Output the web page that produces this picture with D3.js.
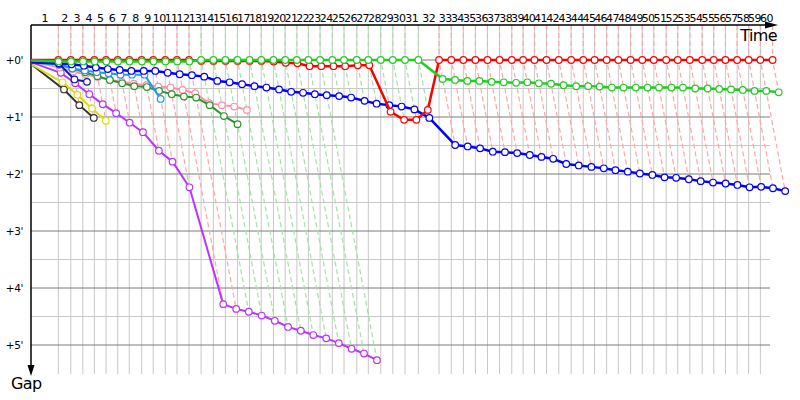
<!DOCTYPE html>
<html lang="en">
<head>
<meta charset="utf-8">
<title>Race gap chart</title>
<style>
  body { margin: 0; background: #fff; }
  text { font-family: "DejaVu Sans", Verdana, sans-serif; fill: #000; }
  .lapnum { font-size: 11px; letter-spacing: -0.6px; }
  .gaplab { font-size: 10.5px; letter-spacing: -0.4px; }
  .axtitle { font-size: 16px; letter-spacing: -0.6px; }
</style>
<script src="https://cdnjs.cloudflare.com/ajax/libs/d3/7.8.5/d3.min.js"></script>
</head>
<body>
<svg width="800" height="400"></svg>
<script>
// leader lap times in seconds, laps 1..60
const leaderLapTimes = [152, 69, 67, 64, 65, 65, 64, 69, 64, 67,
                        65, 67, 67, 68, 67, 67, 67, 65, 68, 65,
                        65, 64, 65, 68, 65, 71, 64, 69, 67, 68,
                        74, 115, 68, 67, 67, 67, 67, 68, 63, 63,
                        67, 68, 69, 67, 63, 67, 65, 68, 65, 64,
                        69, 64, 67, 69, 64, 65, 65, 64, 65, 68];
// who led each lap (R = red car, G = green car)
const lapLeader = "RRRRRRRRRRRRGGGGGGGGGGGGGGGGGGGRRRRRRRRRRRRRRRRRRRRRRRRRRRRR";

// gap to leader in seconds, index = lap (0 = start)
const gapPurple = [2.5, 13.5, 24.5, 36, 46.5, 56, 66, 76, 95.5, 107, 134, 257, 262, 265, 269, 274.5, 281, 285, 289.5, 293, 298, 304, 309, 316];
const gapBlack  = [5, 31, 47.5, 61];
const gapYellow = [5, 23.5, 36.5, 51, 64];
const gapPink   = [1.5, 8, 12, 15, 18, 21, 23, 25, 26.5, 28, 29, 31.5, 35, 45.5, 47.5, 49, 52.5];
const gapDkGreen= [3, 4.5, 9, 13, 17, 21, 24.5, 27.5, 28.5, 32.5, 36, 38.5, 39.5, 47.5, 59, 67.5];
const gapSky    = [2, 5, 9, 11, 13, 14, 15.5, 15.5, 15.5, 41];
const gapNavy   = [2, 4, 20.5, 23];
const gapBlue   = [2.5, 3.5, 4.5, 6, 8, 9.5, 10.5, 11.5, 11.5, 11.5,
                   13.5, 15, 16, 17.5, 22, 23.5, 25.5, 27.5, 29, 31,
                   33.5, 34.5, 36, 37, 38, 39.5, 43, 46, 47.5, 49,
                   52, 61, 89.5, 91, 93, 96.5, 97, 98, 100, 102,
                   104, 109.5, 111, 112.5, 114, 116, 117.5, 119.5, 121, 123.5,
                   124, 125.5, 127.5, 129, 130, 131.5, 134, 133.5, 135, 138];
const gapRed    = [0, 0, 0, 0, 0, 0, 0, 0, 0, 0, 0, 0, 0,
                   1, 1, 1, 1, 1, 1, 1.5, 3, 3.5, 6.5, 6.5, 6.5, 6.5, 5.5, 5.5, 54.5, 63, 63, 52.5,
                   0, 0, 0, 0, 0, 0, 0, 0, 0, 0, 0, 0, 0, 0, 0, 0, 0, 0,
                   0, 0, 0, 0, 0, 0, 0, 0, 0, 0, 0];
const gapGreen  = [0.5, 1.5, 1.5, 1.5, 1.5, 1.5, 1.5, 1.5, 1.5, 1.5, 1.5, 1.5, 1.5,
                   0, 0, 0, 0, 0, 0, 0, 0, 0, 0, 0, 0, 0, 0, 0, 0, 0, 0, 0,
                   20, 21, 22, 22, 23, 23.5, 24, 23.5, 24.5, 25,
                   26.5, 27.5, 27.5, 28, 29, 29, 29, 29, 29, 29,
                   29, 30, 30, 30.5, 31, 31.5, 32.5, 32.5, 34];

const gapTicks = [0, 60, 120, 180, 240, 300];
const gapTickLabels = ["+0'", "+1'", "+2'", "+3'", "+4'", "+5'"];
const halfTicks = [30, 90, 150, 210, 270];

// drawing order: last one ends up on top
const cars = [
    { gaps: gapPurple,  color: "#bb33ff", width: 2 },
    { gaps: gapBlack,   color: "#333333", width: 2 },
    { gaps: gapYellow,  color: "#dede00", width: 2 },
    { gaps: gapPink,    color: "#ff8fa8", width: 2 },
    { gaps: gapDkGreen, color: "#2a962a", width: 2 },
    { gaps: gapSky,     color: "#1e96ff", width: 2 },
    { gaps: gapNavy,    color: "#1a1aa8", width: 2 },
    { gaps: gapBlue,    color: "#0000ff", width: 2.5 },
    { gaps: gapRed,     color: "#ff0000", width: 2.5 },
    { gaps: gapGreen,   color: "#22cc22", width: 2.5 }
];
const dashColor = { R: "#ffa6a6", G: "#a6e0a6" };

let svg = d3.select("svg");
const left = 31, topY = 25, gridRight = 770, gridBottom = 374;

// cumulative leader time at end of each lap
const leaderTime = [0];
leaderLapTimes.forEach((t, i) => leaderTime.push(leaderTime[i] + t));

// 10.8 px per minute along time, 57 px per minute along gap
let x = d3.scaleLinear().domain([0, 4200]).range([left, left + 4200 / 60 * 10.8]);
let y = d3.scaleLinear().domain([0, 300]).range([60, 345]);

const px = (lap, gap) => x(leaderTime[lap] + gap);

// vertical lap grid
let lapsIdx = d3.range(1, leaderTime.length);
svg.append("g").selectAll("line")
    .data(lapsIdx.filter(n => x(leaderTime[n]) <= gridRight))
    .join("line")
    .attr("x1", n => x(leaderTime[n])).attr("x2", n => x(leaderTime[n]))
    .attr("y1", topY).attr("y2", gridBottom)
    .attr("stroke", "#c8c8c8").attr("stroke-width", 1);

// horizontal gap grid
svg.append("g").selectAll("line")
    .data(halfTicks)
    .join("line")
    .attr("x1", left).attr("x2", gridRight)
    .attr("y1", d => y(d)).attr("y2", d => y(d))
    .attr("stroke", "#c8c8c8");
svg.append("g").selectAll("line")
    .data(gapTicks)
    .join("line")
    .attr("x1", left).attr("x2", gridRight)
    .attr("y1", d => y(d)).attr("y2", d => y(d))
    .attr("stroke", "#7a7a7a");

// dashed lap lines: from top down to leader, then along to the last car on that lap
let lapLines = lapsIdx.map(n => {
    let gmax = d3.max(cars, c => c.gaps[n] === undefined ? -1 : c.gaps[n]);
    return { lap: n, gmax: gmax, leader: lapLeader[n - 1] };
});
svg.append("g").selectAll("path")
    .data(lapLines)
    .join("path")
    .attr("d", d => "M" + px(d.lap, 0) + "," + topY + "V" + y(0) + "L" + px(d.lap, d.gmax) + "," + y(d.gmax))
    .attr("fill", "none")
    .attr("stroke", d => dashColor[d.leader])
    .attr("stroke-width", 1.2)
    .attr("stroke-dasharray", "5,3");

// axes
svg.append("line").attr("x1", left).attr("x2", 770).attr("y1", topY).attr("y2", topY)
    .attr("stroke", "#000").attr("stroke-width", 1.5);
svg.append("path").attr("d", "M765,21.5L778,25L765,28.5Z").attr("fill", "#000");
svg.append("line").attr("x1", left).attr("x2", left).attr("y1", topY).attr("y2", 368)
    .attr("stroke", "#000").attr("stroke-width", 1.5);
svg.append("path").attr("d", "M27.5,365L31,376L34.5,365Z").attr("fill", "#000");

svg.append("text").attr("class", "axtitle").attr("x", 777).attr("y", 41)
    .attr("text-anchor", "end").text("Time");
svg.append("text").attr("class", "axtitle").attr("x", 11).attr("y", 389).text("Gap");

// lap numbers centred on each lap interval
svg.append("g").selectAll("text")
    .data(lapsIdx)
    .join("text")
    .attr("class", "lapnum")
    .attr("x", n => (x(leaderTime[n - 1]) + x(leaderTime[n])) / 2)
    .attr("y", 22)
    .attr("text-anchor", "middle")
    .text(n => n);

// gap labels
svg.append("g").selectAll("text")
    .data(gapTicks)
    .join("text")
    .attr("class", "gaplab")
    .attr("x", 23).attr("y", d => y(d) + 4)
    .attr("text-anchor", "end")
    .text((d, i) => gapTickLabels[i]);

// cars
let line = d3.line().x(d => px(d.lap, d.gap)).y(d => y(d.gap));
cars.forEach(c => {
    let pts = c.gaps.map((g, i) => ({ lap: i, gap: g }));
    let g = svg.append("g");
    g.append("path").datum(pts)
        .attr("d", line)
        .attr("fill", "none")
        .attr("stroke", c.color)
        .attr("stroke-width", c.width)
        .attr("stroke-linejoin", "round");
    g.selectAll("circle")
        .data(pts.filter(p => p.lap > 0))
        .join("circle")
        .attr("cx", p => px(p.lap, p.gap))
        .attr("cy", p => y(p.gap))
        .attr("r", 3.3)
        .attr("fill", "#fff")
        .attr("stroke", c.color)
        .attr("stroke-width", 1.2);
});
</script>
</body>
</html>
